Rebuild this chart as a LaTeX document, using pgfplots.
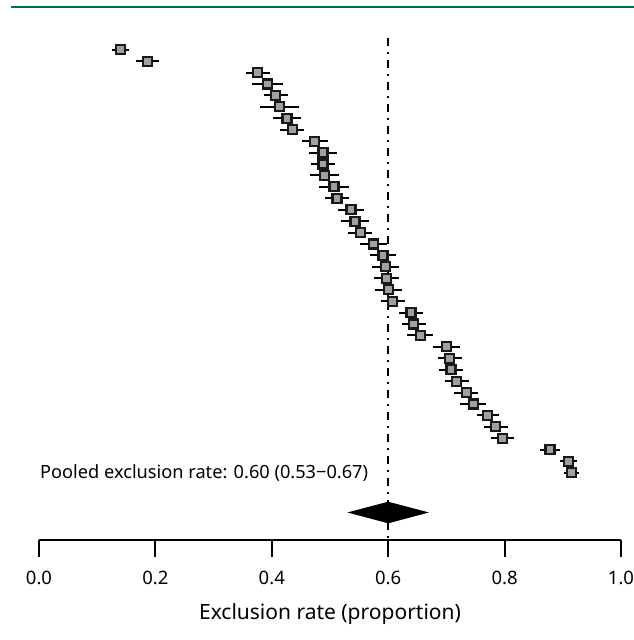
\documentclass[border=0pt]{standalone}
\usepackage{fontspec}
\setmainfont{Noto Sans}
\usepackage{pgfplots}
\usepackage{pgfplotstable}
\pgfplotsset{compat=1.18}
\definecolor{topgreen}{RGB}{0,110,76}
\definecolor{boxgray}{RGB}{160,160,160}

\pgfplotstableread{
x      err    y
0.140  0.015  -1
0.186  0.020  -2
0.376  0.021  -3
0.393  0.027  -4
0.407  0.020  -5
0.413  0.034  -6
0.426  0.024  -7
0.435  0.021  -8
0.474  0.022  -9
0.488  0.024  -10
0.488  0.020  -11
0.491  0.025  -12
0.507  0.026  -13
0.512  0.021  -14
0.536  0.022  -15
0.543  0.024  -16
0.552  0.021  -17
0.575  0.023  -18
0.591  0.023  -19
0.596  0.023  -20
0.597  0.021  -21
0.601  0.023  -22
0.608  0.021  -23
0.639  0.021  -24
0.644  0.021  -25
0.655  0.022  -26
0.700  0.023  -27
0.706  0.021  -28
0.708  0.021  -29
0.718  0.021  -30
0.734  0.021  -31
0.746  0.022  -32
0.771  0.019  -33
0.785  0.020  -34
0.796  0.020  -35
0.878  0.017  -36
0.910  0.015  -37
0.915  0.013  -38
}\studies

\begin{document}
\begin{tikzpicture}
\begin{axis}[
  at={(39pt,100pt)}, anchor=south west,
  scale only axis, width=582pt, height=520pt,
  xmin=0, xmax=1, ymin=-43.90, ymax=1.598,
  clip=false,
  axis x line*=bottom, axis y line=none,
  axis line style={line width=2pt, black},
  xtick={0,0.2,0.4,0.6,0.8,1.0},
  ytick=\empty,
  tick align=outside,
  major tick length=17pt,
  major tick style={line width=2pt, black},
  xticklabel style={font=\fontsize{18.5}{21}\selectfont, yshift=-11pt, /pgf/number format/.cd, fixed, fixed zerofill, precision=1, assume math mode=true},
  xlabel={Exclusion rate (proportion)},
  xlabel style={font=\fontsize{21}{25}\selectfont, at={(axis description cs:0.5,-0.1538)}, anchor=base},
]
\addplot[black, line width=1.6pt, dash pattern=on 8pt off 6pt on 2pt off 6pt] coordinates {(0.6,-0.02) (0.6,-43.9)};
\addplot[only marks, mark=square*, mark size=4.5pt,
  mark options={fill=boxgray, draw=black!90, line width=2.2pt, solid},
  error bars/.cd, x dir=both, x explicit, error mark=none,
  error bar style={line width=2pt, black}]
  table[x=x, y=y, x error=err] {\studies};
\addplot[fill=black, draw=none] coordinates {(0.53,-41.49) (0.60,-40.55) (0.67,-41.49) (0.60,-42.44)} -- cycle;
\node[anchor=base west, inner sep=0pt, font=\fontsize{18.2}{21}\selectfont] at (axis cs:0.0017,-38.56) {Pooled exclusion rate: 0.60 (0.53−0.67)};
\end{axis}
\draw[topgreen, line width=2.8pt] (11pt,633pt) -- (634pt,633pt);
\pgfresetboundingbox
\path[use as bounding box] (0pt,0pt) rectangle (634pt,640pt);
\end{tikzpicture}
\end{document}
